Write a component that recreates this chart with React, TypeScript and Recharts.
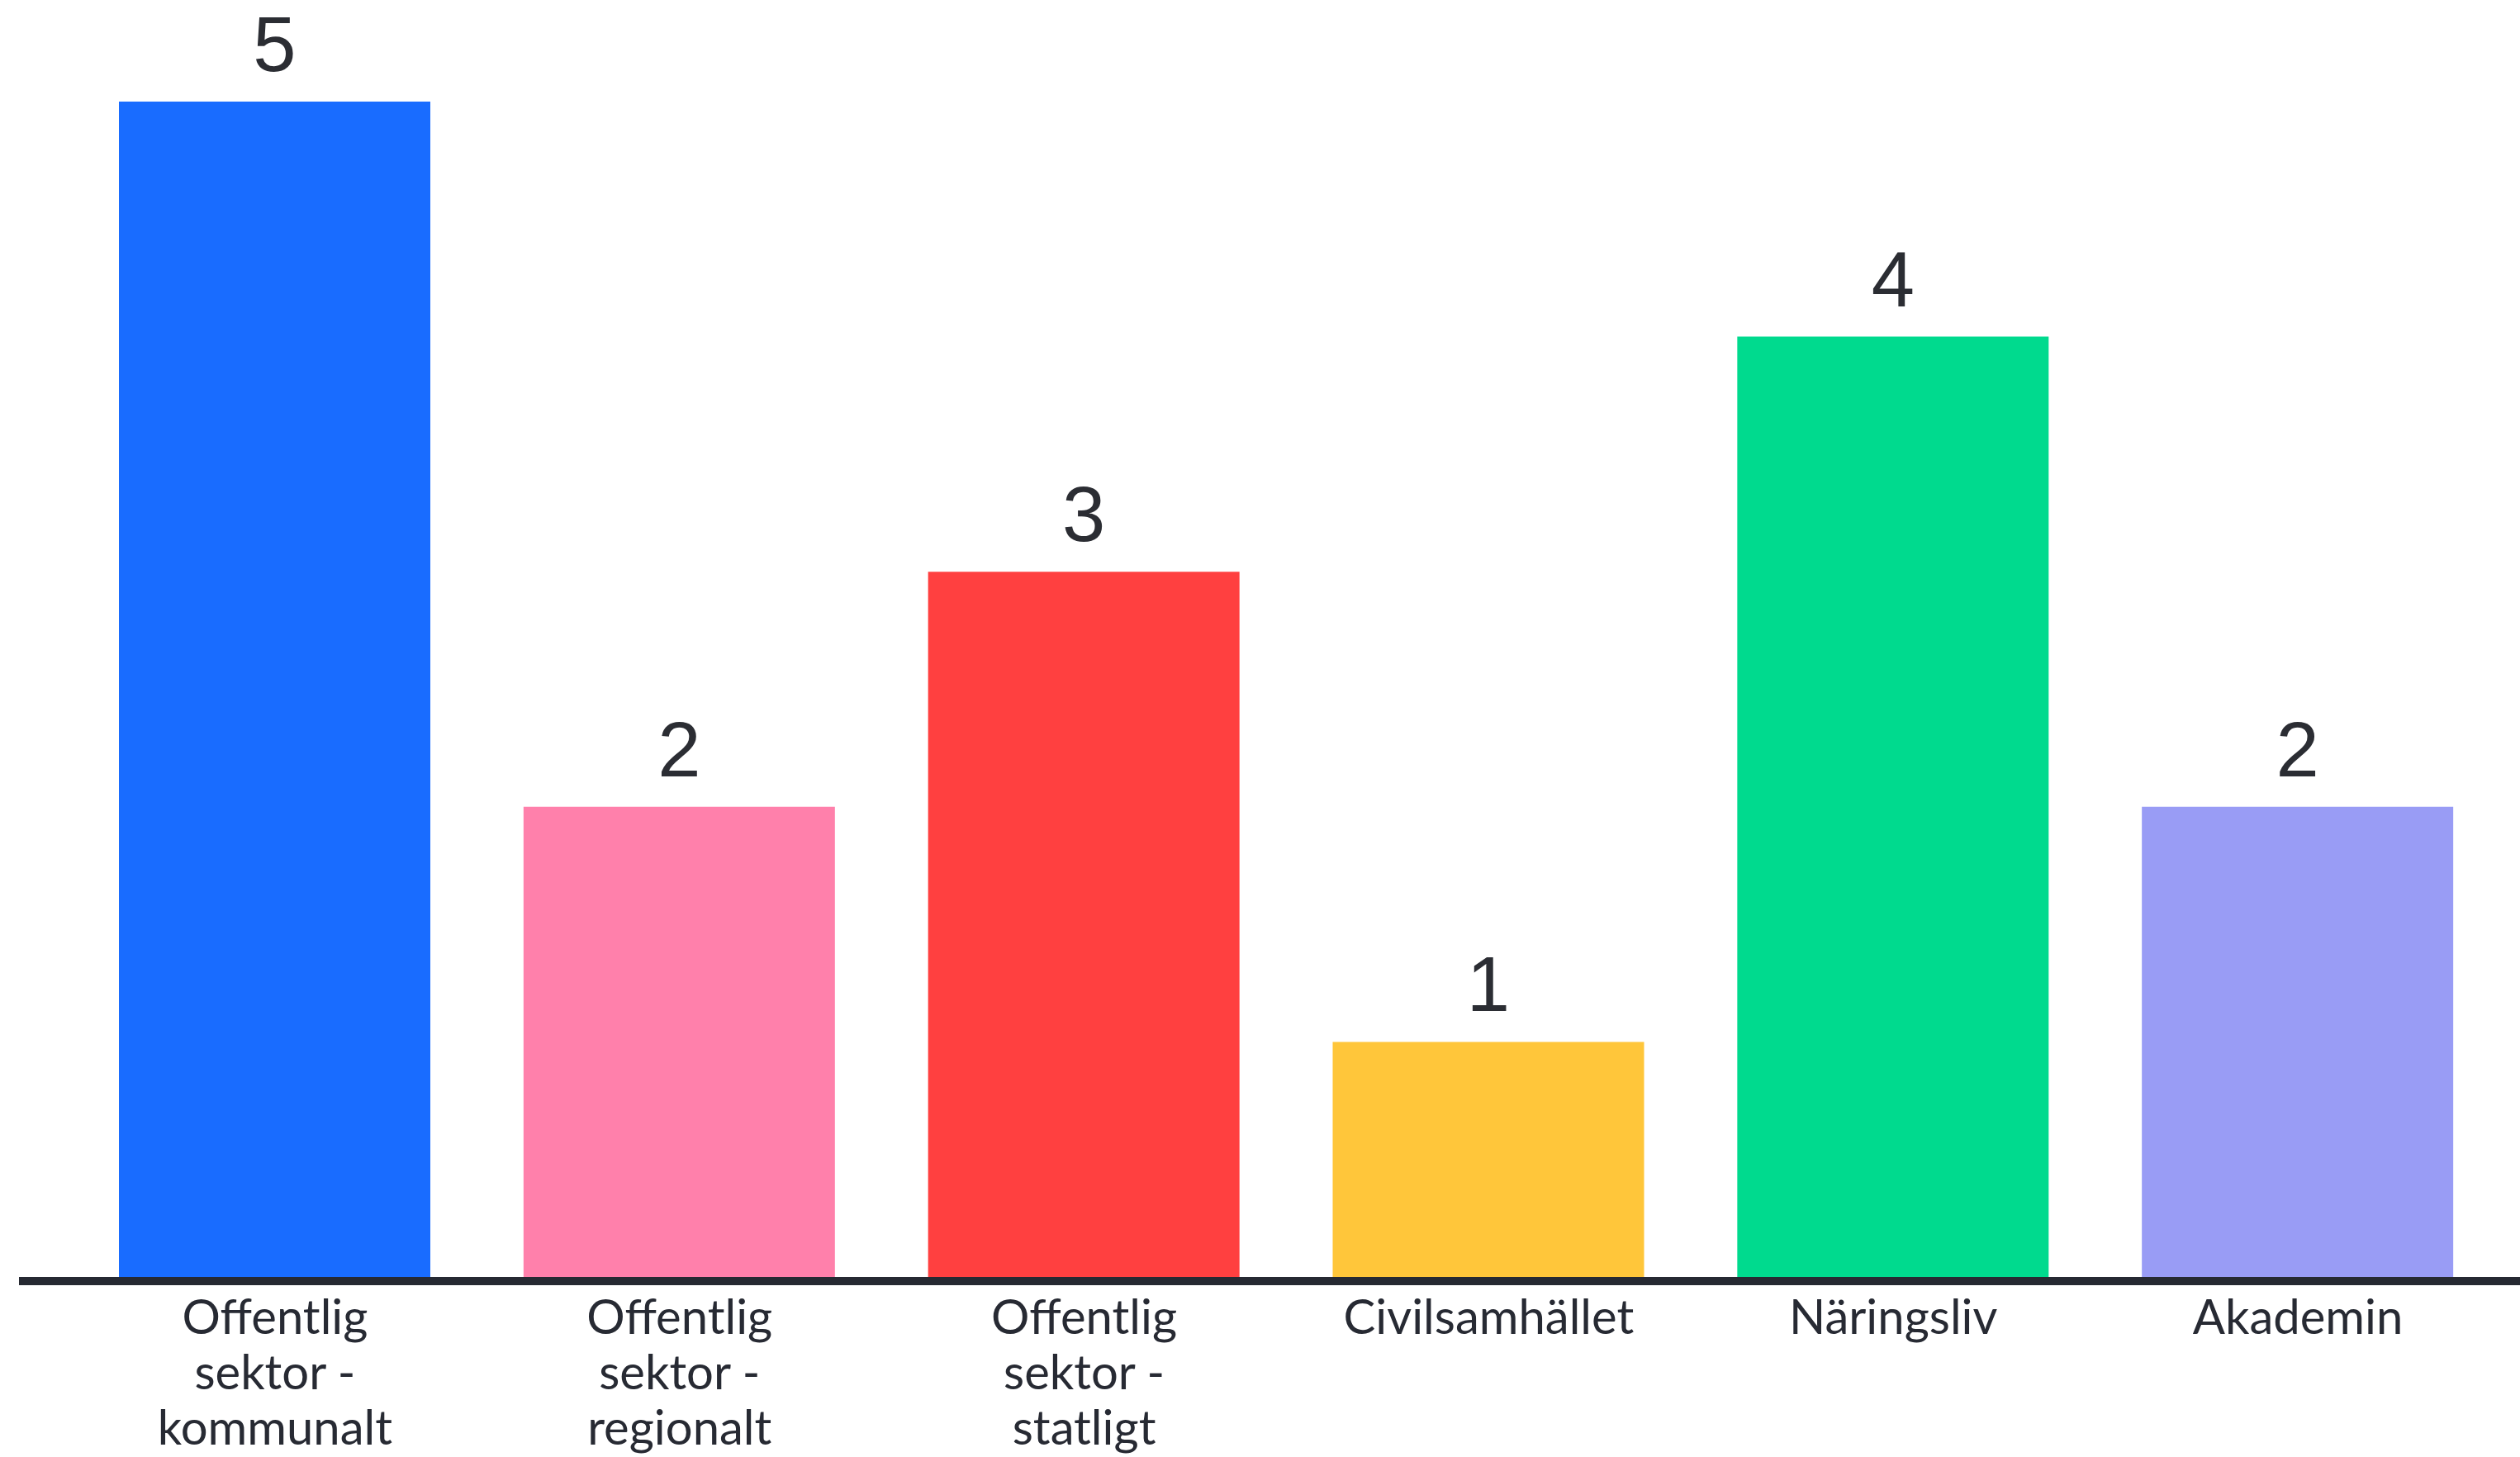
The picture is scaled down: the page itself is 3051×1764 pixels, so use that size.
import { BarChart, Bar, XAxis, YAxis, Cell, LabelList } from "recharts";

const categories = [
  "Offentlig sektor - kommunalt",
  "Offentlig sektor - regionalt",
  "Offentlig sektor - statligt",
  "Civilsamhället",
  "Näringsliv",
  "Akademin"
];

const tickLines: Record<string, string[]> = {
  "Offentlig sektor - kommunalt": ["Offentlig", "sektor -", "kommunalt"],
  "Offentlig sektor - regionalt": ["Offentlig", "sektor -", "regionalt"],
  "Offentlig sektor - statligt": ["Offentlig", "sektor -", "statligt"],
  "Civilsamhället": ["Civilsamhället"],
  "Näringsliv": ["Näringsliv"],
  "Akademin": ["Akademin"]
};

const counts = [5, 2, 3, 1, 4, 2];

const barColors = ["#196cff", "#ff80ab", "#ff4040", "#ffc63a", "#00da8e", "#999cf5"];

const TEXT = "#272a33";

const chartData = categories.map((name, i) => ({ name, value: counts[i] }));

const CategoryTick = (props: { x: number; y: number; payload: { value: string } }) => {
  const { x, y, payload } = props;
  const lines = tickLines[payload.value] || [payload.value];
  return (
    <text x={x} y={y} textAnchor="middle" fill={TEXT} fontSize={58} fontFamily="Lato, sans-serif">
      {lines.map((line, i) => (
        <tspan key={i} x={x} dy={i === 0 ? "0.71em" : 67}>
          {line}
        </tspan>
      ))}
    </text>
  );
};

export default function App() {
  return (
    <div style={{ position: "absolute", left: 0, top: 0, width: 3051, height: 1764, background: "#fff" }}>
      <BarChart
        width={3051}
        height={1764}
        data={chartData}
        margin={{ top: 123, right: 0, bottom: 0, left: 23 }}
      >
        <YAxis hide domain={[0, 5]} />
        <XAxis
          dataKey="name"
          height={218}
          padding={{ left: 65, right: 24 }}
          tickLine={false}
          tickSize={0}
          tickMargin={28}
          interval={0}
          axisLine={{ stroke: "#262932", strokeWidth: 10, transform: "translate(0,5)" }}
          tick={CategoryTick}
        />
        <Bar dataKey="value" barSize={377} isAnimationActive={false}>
          {chartData.map((entry, index) => (
            <Cell key={`cell-${index}`} fill={barColors[index]} />
          ))}
          <LabelList
            dataKey="value"
            position="top"
            offset={37}
            fill="#2b2d33"
            fontSize={94}
            fontFamily="'Liberation Sans', Arial, sans-serif"
          />
        </Bar>
      </BarChart>
    </div>
  );
}
